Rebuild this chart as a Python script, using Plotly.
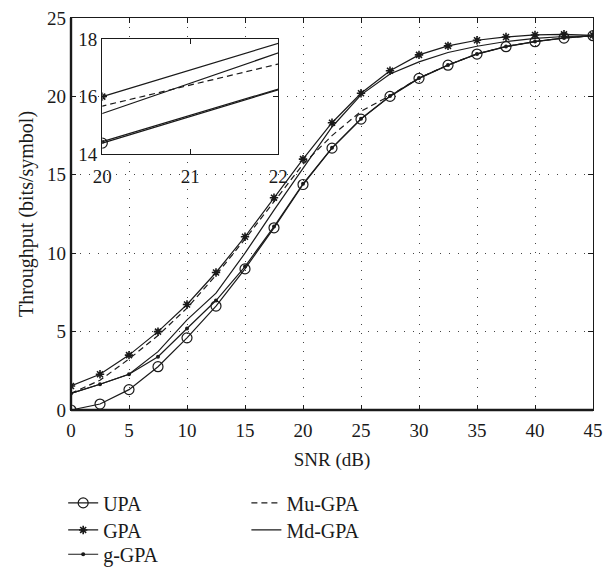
import plotly.graph_objects as go

snr = [0, 2.5, 5, 7.5, 10, 12.5, 15, 17.5, 20, 22.5, 25, 27.5, 30, 32.5, 35, 37.5, 40, 42.5, 45]
upa = [0.0, 0.38, 1.3, 2.76, 4.6, 6.63, 9.0, 11.62, 14.38, 16.7, 18.55, 20.0, 21.15, 21.99, 22.7, 23.17, 23.49, 23.72, 23.87]
gpa = [1.53, 2.28, 3.5, 5.0, 6.73, 8.77, 11.05, 13.54, 16.0, 18.32, 20.2, 21.64, 22.65, 23.22, 23.58, 23.79, 23.92, 23.96, 23.9]
g_gpa = [1.06, 1.64, 2.28, 3.4, 5.2, 6.98, 9.15, 11.7, 14.43, 16.72, 18.57, 20.02, 21.17, 22.0, 22.71, 23.18, 23.5, 23.73, 23.88]
mu_gpa = [1.06, 1.9, 3.25, 4.75, 6.5, 8.6, 10.9, 13.3, 15.67, 17.5, 19.05, 20.05, 21.17, 22.0, 22.71, 23.18, 23.5, 23.73, 23.87]
md_gpa = [1.06, 1.64, 2.28, 3.72, 5.75, 7.45, 10.0, 12.75, 15.41, 18.05, 20.1, 21.43, 22.2, 22.8, 23.2, 23.5, 23.7, 23.82, 23.88]

x_ticks = [0, 5, 10, 15, 20, 25, 30, 35, 40, 45]
y_ticks = [0, 5, 10, 15, 20, 25]
inset_x_ticks = [20, 21, 22]
inset_y_ticks = [14, 16, 18]

INK = "#1a1a1a"
FONT = "Liberation Serif"

series = [
    ("UPA", upa, dict(mode="lines+markers", marker=dict(symbol="circle-open", size=10, color=INK, line=dict(width=1.2, color=INK)), line=dict(color=INK, width=1.2), legend="legend")),
    ("GPA", gpa, dict(mode="lines+markers", marker=dict(symbol="asterisk-open", size=7, color=INK, line=dict(width=1.6, color=INK)), line=dict(color=INK, width=1.2), legend="legend2")),
    ("g-GPA", g_gpa, dict(mode="lines+markers", marker=dict(symbol="circle", size=4, color=INK), line=dict(color=INK, width=1.2), legend="legend3")),
    ("Mu-GPA", mu_gpa, dict(mode="lines", line=dict(color=INK, width=1.2, dash="6px,4px"), legend="legend4")),
    ("Md-GPA", md_gpa, dict(mode="lines", line=dict(color=INK, width=1.2), legend="legend5")),
]

fig = go.Figure()
for name, ys, kw in series:
    fig.add_trace(go.Scatter(x=snr, y=ys, name=name, xaxis="x", yaxis="y", **kw))
for name, ys, kw in series:
    kw2 = {k: v for k, v in kw.items() if k != "legend"}
    fig.add_trace(go.Scatter(x=snr, y=ys, name=name, xaxis="x2", yaxis="y2", showlegend=False, cliponaxis=True, **kw2))

axis_common = dict(
    showline=True, linecolor=INK, linewidth=1.3, mirror="allticks",
    ticks="inside", ticklen=5, tickcolor=INK, tickwidth=1,
    zeroline=False, tickfont=dict(family=FONT, size=19, color=INK),
)

leg_font = dict(family=FONT, size=20, color=INK)
def leg(x, y):
    return dict(x=x, y=y, xanchor="left", yanchor="middle", orientation="v",
                font=leg_font, bgcolor="rgba(0,0,0,0)", tracegroupgap=0)

fig.update_layout(
    width=615, height=567,
    margin=dict(l=71, r=22, t=18, b=157, autoexpand=False),
    paper_bgcolor="white", plot_bgcolor="white",
    font=dict(family=FONT, color=INK),
    xaxis=dict(range=[0, 45], tickvals=x_ticks, showgrid=True, gridcolor="#444", griddash="1px,8px", gridwidth=1,
               ticklabelstandoff=3,
               title=dict(text="SNR (dB)", font=dict(family=FONT, size=19, color=INK), standoff=12), **axis_common),
    yaxis=dict(range=[0, 25], tickvals=y_ticks, showgrid=True, gridcolor="#444", griddash="1px,8px", gridwidth=1,
               title=dict(text="Throughput (bits/symbol)", font=dict(family=FONT, size=20, color=INK), standoff=8), **axis_common),
    xaxis2=dict(domain=[0.06, 0.397], anchor="y2", range=[20, 22], tickvals=inset_x_ticks, showgrid=False,
                ticklabelstandoff=5, **axis_common),
    yaxis2=dict(domain=[0.653, 0.946], anchor="x2", range=[14, 18], tickvals=inset_y_ticks, showgrid=False,
                **axis_common),
    legend=leg(-0.015, -0.237),
    legend2=leg(-0.015, -0.306),
    legend3=leg(-0.015, -0.368),
    legend4=leg(0.336, -0.237),
    legend5=leg(0.336, -0.306),
)

# white background for inset
fig.add_shape(type="rect", xref="x2 domain", yref="y2 domain", x0=0, x1=1, y0=0, y1=1,
              fillcolor="white", line=dict(width=0), layer="below")
# heavier left and bottom axis lines
fig.add_shape(type="line", xref="x domain", yref="y domain", x0=0, x1=0, y0=0, y1=1,
              line=dict(color=INK, width=2.4), layer="above")
fig.add_shape(type="line", xref="x domain", yref="y domain", x0=0, x1=1, y0=0, y1=0,
              line=dict(color=INK, width=2.4), layer="above")

fig.write_html("out.html")
